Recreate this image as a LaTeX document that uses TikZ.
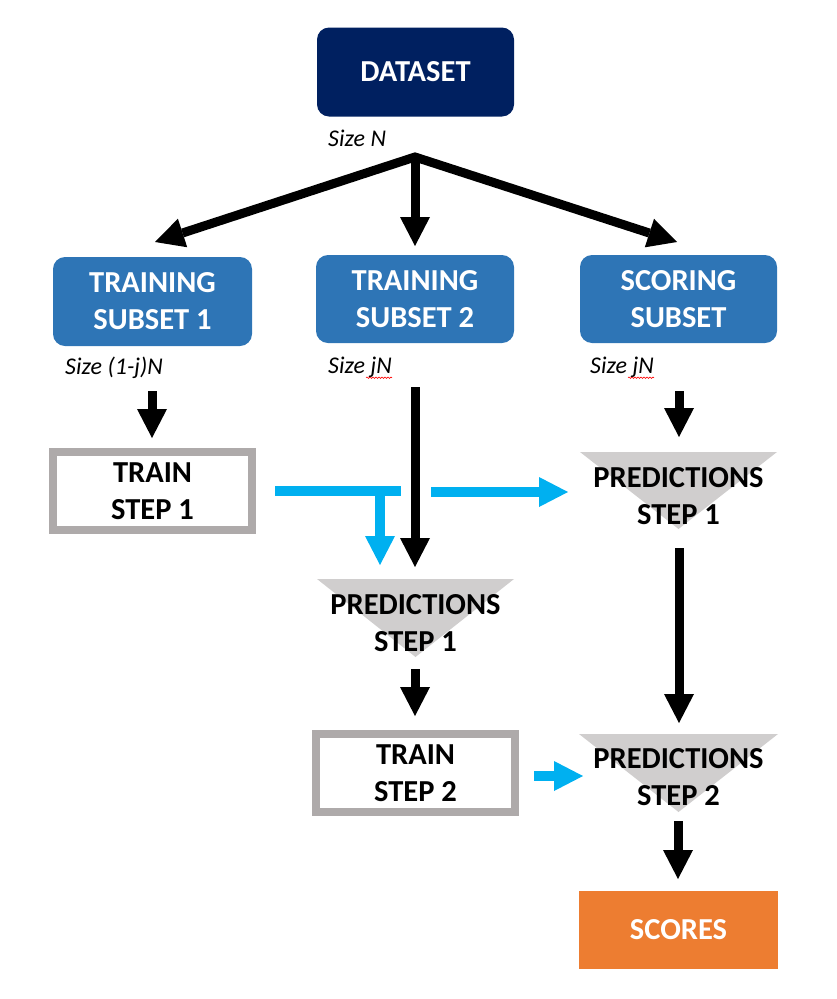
\documentclass[tikz,border=0pt]{standalone}
\usepackage{fontspec}
\setmainfont{Carlito}
\usetikzlibrary{arrows.meta,decorations.pathmorphing,calc}
\definecolor{navy}{HTML}{002060}
\definecolor{mblue}{HTML}{2E75B6}
\definecolor{lgray}{HTML}{AEAAAA}
\definecolor{tgray}{HTML}{D0CECE}
\definecolor{cyanb}{HTML}{00B0F0}
\definecolor{orng}{HTML}{ED7D31}
\begin{document}
\begin{tikzpicture}[x=1pt,y=-1pt,
  lbl/.style={font=\fontsize{30.5}{37}\selectfont\bfseries, align=center, inner sep=0pt},
  sizelbl/.style={font=\fontsize{24}{28}\selectfont\itshape, inner sep=0pt, anchor=west},
  hdr/.style={lbl, rounded corners=12pt, fill=mblue, text=white, minimum width=198pt, minimum height=88pt},
  topbox/.style={lbl, rounded corners=12pt, fill=navy, text=white, minimum width=197pt, minimum height=89pt},
  trainbox/.style={lbl, draw=lgray, line width=8pt, fill=white, minimum width=199pt, minimum height=78pt},
  scorebox/.style={lbl, fill=orng, text=white, minimum width=199pt, minimum height=78pt},
  tri/.style={fill=tgray},
  blk/.style={line width=9pt, draw=black, -{Triangle[width=30pt,length=29pt,line width=0pt]}},
  blkline/.style={line width=9pt, draw=black},
  blu/.style={line width=9.5pt, draw=cyanb, -{Triangle[width=30pt,length=29pt,line width=0pt]}},
  bluline/.style={line width=9.5pt, draw=cyanb},
  wavy/.style={draw=red, line width=0.6pt, decorate, decoration={snake, amplitude=0.7pt, segment length=3pt}}
]
\useasboundingbox (0,0) rectangle (836,999);

% top
\node[topbox] (ds) at (415.5,72) {DATASET};
\node[sizelbl] (szn) at (328,138) {Size N};

% fork
\coordinate (fork) at (415,157);
\coordinate (ltip) at (155,242);
\coordinate (rtip) at (677,242);
\coordinate (mtip) at (415,246);
\draw[line width=9pt, miter limit=10, {Triangle[width=30pt,length=29pt,line width=0pt]}-{Triangle[width=30pt,length=29pt,line width=0pt]}] (ltip) -- (fork) -- (rtip);
\draw[blk] (fork) -- (mtip);

% subsets
\node[hdr, minimum width=199pt, minimum height=89pt] (ts1) at (152.5,301.5) {TRAINING\\SUBSET 1};
\node[hdr] (ts2) at (415,299) {TRAINING\\SUBSET 2};
\node[hdr, minimum width=197pt] (ss) at (678.5,299) {SCORING\\SUBSET};

\node[sizelbl] (sz1) at (65,368) {Size (1-j)N};
\node[sizelbl] (sz2) at (328,367) {Size jN};
\node[sizelbl] (sz3) at (590,367) {Size jN};
\draw[wavy] ($(sz2.base east)+(-26,4.5)$) -- ($(sz2.base east)+(0,4.5)$);
\draw[wavy] ($(sz3.base east)+(-26,4.5)$) -- ($(sz3.base east)+(0,4.5)$);

% train step 1
\coordinate (a1s) at (152,391);
\coordinate (a1e) at (152,438);
\draw[blk] (a1s) -- (a1e);
\node[trainbox] (tr1) at (152.5,491) {TRAIN\\STEP 1};

% long black arrow
\coordinate (a2s) at (415,387);
\coordinate (a2e) at (415,567);
\draw[blk] (a2s) -- (a2e);

% blue connectors from train step 1
\coordinate (b1s) at (275,491);
\coordinate (b1m) at (401,491);
\coordinate (b1j) at (380,491);
\coordinate (b1e) at (380,565);
\draw[bluline] (b1s) -- (b1m);
\draw[blu] (b1j) -- (b1e);
\coordinate (b2s) at (431,492);
\coordinate (b2e) at (568,492);
\draw[blu] (b2s) -- (b2e);

% right predictions step 1
\fill[tri] (580,452) -- (777,452) -- (678.5,529) -- cycle;
\node[lbl] (pr1) at (678.5,496.5) {PREDICTIONS\\STEP 1};
\coordinate (a3s) at (679,391);
\coordinate (a3e) at (679,437);
\draw[blk] (a3s) -- (a3e);
\coordinate (a4s) at (679,548);
\coordinate (a4e) at (679,723);
\draw[blk] (a4s) -- (a4e);

% middle predictions step 1
\fill[tri] (317,579) -- (514,579) -- (415.5,657) -- cycle;
\node[lbl] (pm1) at (415.5,623) {PREDICTIONS\\STEP 1};
\coordinate (a5s) at (415,669);
\coordinate (a5e) at (415,716);
\draw[blk] (a5s) -- (a5e);

% train step 2
\node[trainbox] (tr2) at (415.5,773) {TRAIN\\STEP 2};
\coordinate (b3s) at (534,776);
\coordinate (b3e) at (583,776);
\draw[blu] (b3s) -- (b3e);

% predictions step 2
\fill[tri] (579,734) -- (778,734) -- (678.5,812) -- cycle;
\node[lbl] (pr2) at (678.5,777) {PREDICTIONS\\STEP 2};
\coordinate (a6s) at (678,821);
\coordinate (a6e) at (678,879);
\draw[blk] (a6s) -- (a6e);

% scores
\node[scorebox] (sc) at (678.5,930) {SCORES};
\end{tikzpicture}
\end{document}
